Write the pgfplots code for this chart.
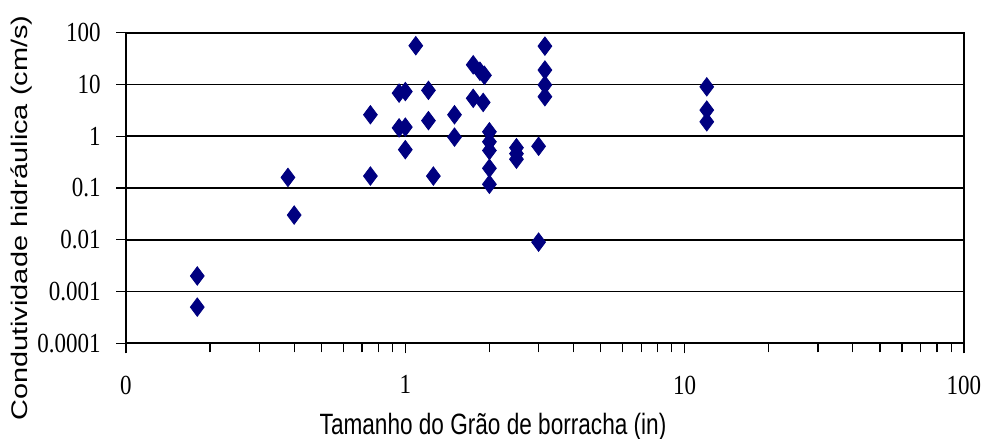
\documentclass[border=0pt]{standalone}
\usepackage{fontspec}
\setmainfont{Liberation Serif}
\newfontfamily\labelfont{Liberation Sans}
\usepackage{graphicx}
\usepackage{pgfplots}
\pgfplotsset{compat=1.18}

\definecolor{marknavy}{RGB}{0,0,128}
% tick labels are set slightly taller than wide
\newcommand{\tk}[1]{\scalebox{1}[1.2]{#1}}

\pgfplotstableread{
size   k
0.18   0.002
0.18   0.0005
0.38   0.16
0.40   0.03
0.75   2.6
0.75   0.17
1.09   56
0.95   6.8
1.00   7.3
1.21   7.7
1.21   2.0
0.95   1.45
1.00   1.5
1.00   0.55
1.26   0.17
1.50   2.6
1.50   0.96
1.75   24
1.85   18
1.92   15
1.75   5.4
1.90   4.5
2.00   1.22
2.00   0.78
2.00   0.53
2.00   0.24
2.00   0.118
2.50   0.60
2.50   0.46
2.50   0.36
3.00   0.64
3.00   0.009
3.16   55
3.16   19
3.16   9.8
3.16   5.8
12     9.0
12     3.2
12     1.9
}\datatable

\begin{document}
\begin{tikzpicture}
\begin{axis}[
  name=ax,
  scale only axis,
  width=419pt, height=155.3pt,
  xmode=log, ymode=log,
  xmin=0.1, xmax=100, ymin=1e-4, ymax=100,
  xtick={0.1,1,10,100},
  xticklabels={\tk{0},\tk{1},\tk{10},\tk{100}},
  minor xtick={0.2,0.3,0.4,0.5,0.6,0.7,0.8,0.9,2,3,4,5,6,7,8,9,20,30,40,50,60,70,80,90},
  ytick={1e-4,1e-3,1e-2,0.1,1,10,100},
  yticklabels={\tk{0.0001},\tk{0.001},\tk{0.01},\tk{0.1},\tk{1},\tk{10},\tk{100}},
  yminorticks=false,
  tick align=outside,
  xtick pos=left, ytick pos=left,
  major tick length=5pt, minor tick length=4.5pt,
  every tick/.style={black, line width=0.6pt},
  ymajorgrids,
  grid style={black, line width=0.8pt},
  axis line style={black, line width=0.8pt},
  ticklabel style={font=\fontsize{11.5}{12}\selectfont, inner sep=0pt},
  xticklabel style={anchor=north, yshift=-11pt},
  yticklabel style={anchor=east, xshift=-7.5pt},
  xlabel={\labelfont\fontsize{11.3}{12}\selectfont\scalebox{1}[1.3]{Tamanho do Grão de borracha (in)}},
  xlabel style={at={(axis description cs:0.438,-0.2952)}, anchor=base, inner sep=0pt},
  ylabel={\labelfont\fontsize{11.3}{12}\selectfont\scalebox{1.28}[1]{Condutividade hidráulica (cm/s)}},
  ylabel style={at={(axis description cs:-0.1175,0.403)}, anchor=base, inner sep=0pt},
  clip=false,
]
\addplot[only marks, mark=diamond*, mark size=4.6pt,
  mark options={draw=marknavy, fill=marknavy}] table[x=size, y=k] {\datatable};
\end{axis}
\pgfresetboundingbox
\path[use as bounding box] ([xshift=-63pt,yshift=-47.85pt]ax.south west)
  rectangle ([xshift=9.5pt,yshift=16.35pt]ax.north east);
\end{tikzpicture}
\end{document}
